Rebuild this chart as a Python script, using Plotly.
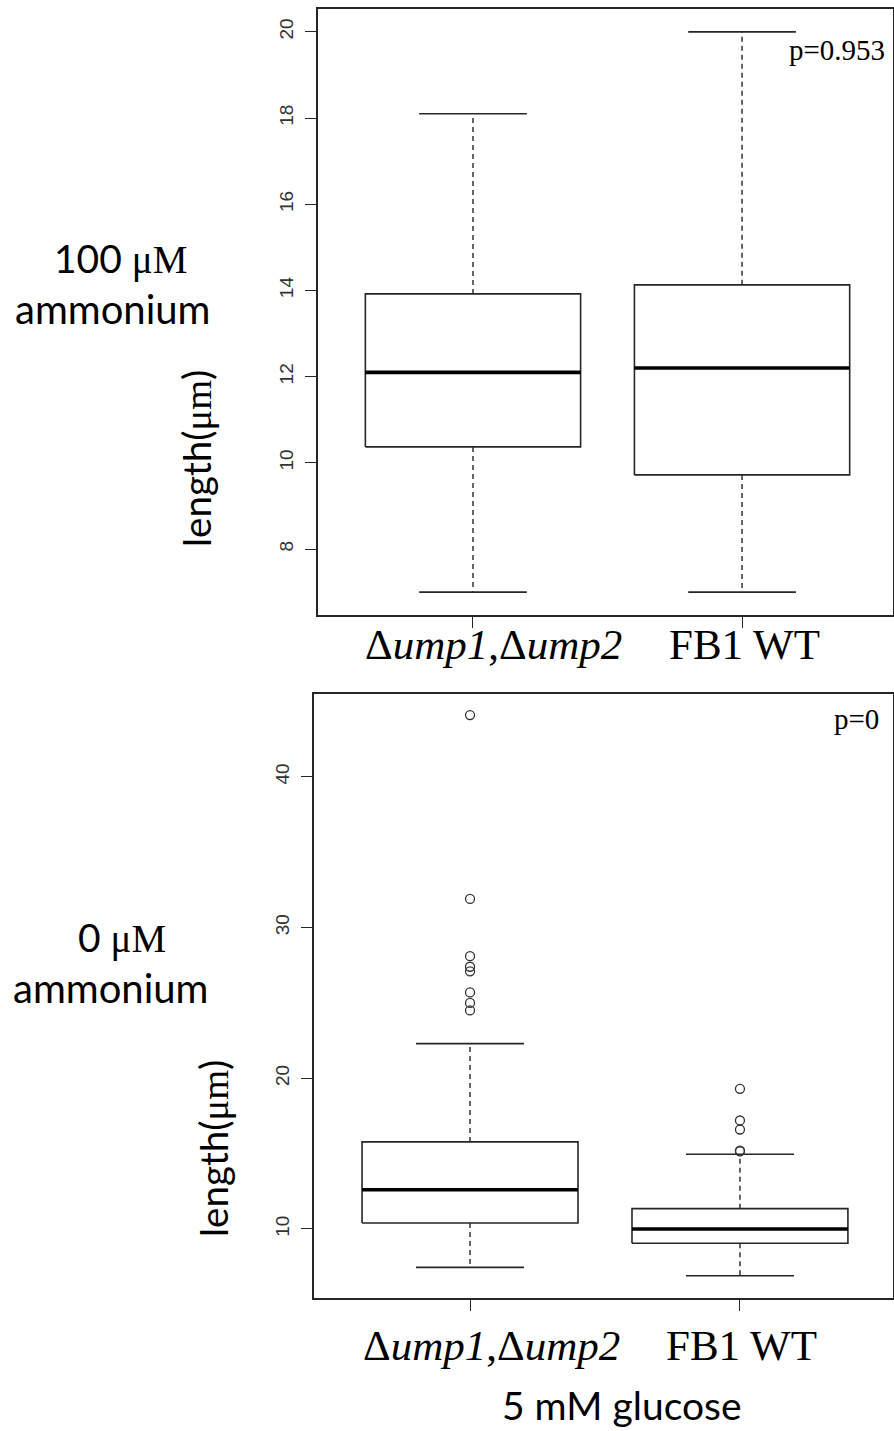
import plotly.graph_objects as go

# categories
groups = ["Δ<i>ump1</i>,Δ<i>ump2</i>", "FB1 WT"]
xpos = [1, 2]

# 100 µM ammonium panel (box statistics)
top_low = [7.0, 7.0]
top_q1 = [10.37, 9.72]
top_med = [12.1, 12.2]
top_q3 = [13.92, 14.13]
top_high = [18.1, 20.0]

# 0 µM ammonium panel
bot_low = [7.45, 6.9]
bot_q1 = [10.4, 9.05]
bot_med = [12.6, 10.0]
bot_q3 = [15.78, 11.35]
bot_high = [22.3, 14.96]
bot_out = [
    [44.1, 31.9, 28.1, 27.4, 27.1, 25.7, 25.0, 24.5],
    [19.3, 17.2, 16.6, 15.2, 15.15],
]

top_ticks = [8, 10, 12, 14, 16, 18, 20]
bot_ticks = [10, 20, 30, 40]

LINE = "#262626"
W, H = 894, 1431
HALF = 0.4      # boxwex 0.8
STAPLE = 0.2    # staplewex 0.5


def add_boxes(fig, xa, ya, low, q1, med, q3, high, outliers=None):
    for i, x in enumerate(xpos):
        # box body
        fig.add_trace(go.Scatter(
            x=[x - HALF, x + HALF, x + HALF, x - HALF, x - HALF],
            y=[q1[i], q1[i], q3[i], q3[i], q1[i]],
            mode="lines", line=dict(color=LINE, width=1.6),
            xaxis=xa, yaxis=ya, hoverinfo="skip"))
        # median
        fig.add_trace(go.Scatter(
            x=[x - HALF, x + HALF], y=[med[i], med[i]],
            mode="lines", line=dict(color="black", width=3.6),
            xaxis=xa, yaxis=ya, hoverinfo="skip"))
        # dashed whiskers
        for a, b in [(q3[i], high[i]), (q1[i], low[i])]:
            fig.add_trace(go.Scatter(
                x=[x, x], y=[a, b], mode="lines",
                line=dict(color=LINE, width=1.4, dash="5px,4px"),
                xaxis=xa, yaxis=ya, hoverinfo="skip"))
        # staples
        for v in (high[i], low[i]):
            fig.add_trace(go.Scatter(
                x=[x - STAPLE, x + STAPLE], y=[v, v], mode="lines",
                line=dict(color=LINE, width=1.6),
                xaxis=xa, yaxis=ya, hoverinfo="skip"))
        if outliers:
            fig.add_trace(go.Scatter(
                x=[x] * len(outliers[i]), y=outliers[i], mode="markers",
                marker=dict(symbol="circle-open", size=9,
                            color="#333", line=dict(width=1.3)),
                xaxis=xa, yaxis=ya, hoverinfo="skip"))


fig = go.Figure()
add_boxes(fig, "x", "y", top_low, top_q1, top_med, top_q3, top_high)
add_boxes(fig, "x2", "y2", bot_low, bot_q1, bot_med, bot_q3, bot_high,
          bot_out)

axis_common = dict(
    showline=True, mirror=True, linecolor=LINE, linewidth=1.6,
    ticks="outside", ticklen=11, tickwidth=1.4, tickcolor=LINE,
    showgrid=False, zeroline=False,
)
yfont = dict(family="Liberation Sans, Arial", size=19, color="#333")

fig.update_layout(
    width=W, height=H,
    margin=dict(l=0, r=0, t=0, b=0),
    plot_bgcolor="white", paper_bgcolor="white",
    showlegend=False,
    xaxis=dict(domain=[318 / W, 893 / W], range=[0.424, 2.561],
               tickvals=xpos, ticktext=["", ""], anchor="y",
               **axis_common),
    yaxis=dict(domain=[1 - 615 / H, 1 - 9 / H], range=[6.47, 20.53],
               tickvals=top_ticks, tickangle=-90, tickfont=yfont,
               ticklabelstandoff=5, anchor="x", **axis_common),
    xaxis2=dict(domain=[314 / W, 893 / W], range=[0.422, 2.567],
                tickvals=xpos, ticktext=["", ""], anchor="y2",
                **axis_common),
    yaxis2=dict(domain=[1 - 1298 / H, 1 - 694 / H], range=[5.42, 45.5],
                tickvals=bot_ticks, tickangle=-90, tickfont=yfont,
                ticklabelstandoff=5, anchor="x2", **axis_common),
)

serif = "Liberation Serif, Times New Roman, serif"
sans = "Lato, Noto Sans, sans-serif"
sp = "<span style='font-family:Liberation Serif'>%s</span>"


def label(px, py, txt, size, family=sans, angle=0, xanchor="center"):
    fig.add_annotation(x=px / W, y=1 - py / H, xref="paper", yref="paper",
                       xanchor=xanchor, yanchor="middle", textangle=angle,
                       text=txt, showarrow=False,
                       font=dict(family=family, size=size, color="black"))


# category labels
for xa, ya, yl in [("x", "y domain", -0.0495), ("x2", "y2 domain", -0.078)]:
    for i, shift in enumerate([21, 2]):
        fig.add_annotation(x=xpos[i], y=yl, xref=xa, yref=ya, xshift=shift,
                           xanchor="center", yanchor="middle",
                           text=groups[i], showarrow=False,
                           font=dict(family=serif, size=43, color="black"))

# p values
label(887, 50, "p=0.953", 29, family=serif, xanchor="right")
label(881, 719, "p=0", 29, family=serif, xanchor="right")

# side condition labels
label(120, 258, "100 " + sp % "μM", 39)
label(112, 309, "ammonium", 40)
label(122, 937, "0 " + sp % "μM", 39)
label(110, 988, "ammonium", 40)

# y axis titles
ylab = "length(" + sp % "μm" + ")"
label(196, 459, ylab, 38.5, angle=-90)
label(213, 1149, ylab, 38.5, angle=-90)

label(622, 1405, "5 mM glucose", 39)

fig.write_html("out.html", config={"displayModeBar": False},
               post_script="document.body.style.margin='0';")
